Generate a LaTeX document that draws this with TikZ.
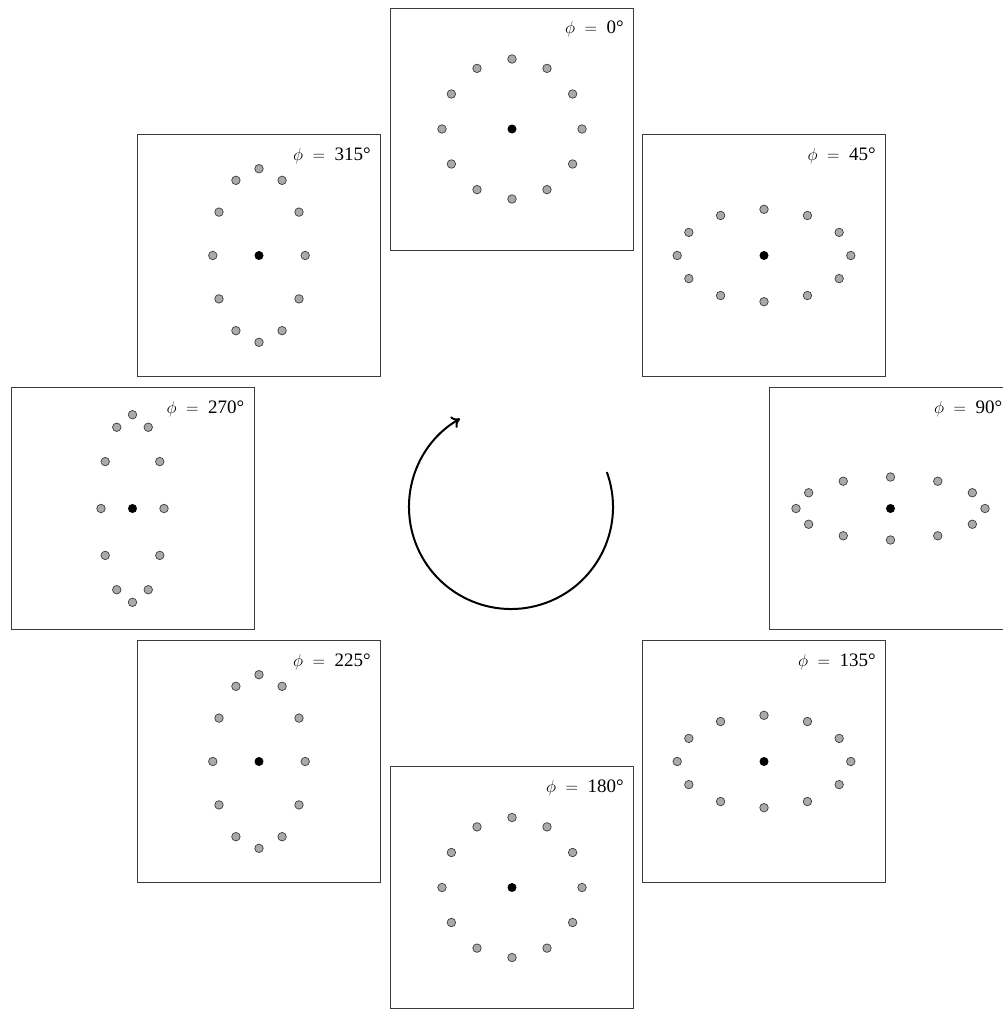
\documentclass[tikz,border=0pt]{standalone}
\usepackage{fontspec}
\setmainfont{Liberation Serif}
\usetikzlibrary{arrows.meta,calc}
\definecolor{framegray}{RGB}{60,60,60}
\definecolor{dotgray}{RGB}{170,170,170}
\tikzset{
  panel/.style={draw=framegray, line width=1pt, minimum width=243pt, minimum height=242pt, inner sep=0pt},
  mass/.style={circle, draw=framegray, fill=dotgray, line width=0.7pt, minimum size=8.5pt, inner sep=0pt},
  centre/.style={circle, fill=black, minimum size=9pt, inner sep=0pt},
  philbl/.style={anchor=base east, font=\fontsize{19}{21}\selectfont, inner sep=0pt},
  turnarr/.style={-{To[length=8pt,width=13pt]}, line width=2pt},
}
\begin{document}
\begin{tikzpicture}[x=1pt, y=-1pt]
 \clip (0,0) rectangle (1003,1009);
 % one panel per phase, ring of test masses squeezed by sx/sy
 \foreach \ang/\cx/\cy/\sx/\sy in {%
   0/512/129/1/1,
   45/764/255.5/1.24/0.66,
   90/890.5/508.5/1.35/0.45,
   135/764/761.5/1.24/0.66,
   180/512/887.5/1/1,
   225/259/761.5/0.66/1.24,
   270/132.5/508.5/0.45/1.34,
   315/259/255.5/0.66/1.24}
 {
   \node[panel] (p\ang) at (\cx,\cy) {};
   \node[centre] (c\ang) at (p\ang.center) {};
   \foreach \k in {0,...,11}
     \node[mass] (m\ang-\k) at ($(c\ang)+({\sx*70*cos(30*\k)},{\sy*70*sin(30*\k)})$) {};
   \node[philbl] (l\ang) at ($(p\ang.north east)+(-10,26)$) {$\phi\;=\;{}$\ang{}°};
 }
 % sense of rotation
 \coordinate (o) at (511,507);
 \draw[turnarr] ($(o)+(-20:102)$) arc (-20:240:102);
\end{tikzpicture}
\end{document}
